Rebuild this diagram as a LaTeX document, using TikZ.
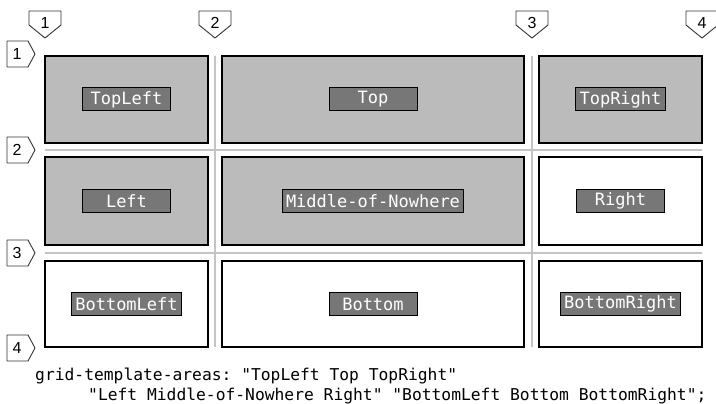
\documentclass[tikz,border=0pt]{standalone}
\usepackage{fontspec}
\setmainfont{Liberation Sans}
\setmonofont{DejaVu Sans Mono}
\usetikzlibrary{positioning}
\definecolor{cellgray}{HTML}{BBBBBB}
\definecolor{lblgray}{HTML}{777777}
\definecolor{linegray}{HTML}{C4C4C4}
\tikzset{
  cell/.style = {rectangle, draw=black, line width=1.2pt, inner sep=0pt},
  lbl/.style = {rectangle, draw=black, line width=1pt, fill=lblgray, text=white, minimum width=88pt, minimum height=23pt, inner xsep=4pt, inner ysep=0pt, font=\ttfamily\fontsize{17}{19}\selectfont},
  gline/.style = {draw=linegray, line width=2pt},
  marker/.style = {draw=black!80, fill=white, line width=0.9pt, line join=round},
  num/.style = {inner sep=0pt, font=\fontsize{16}{18}\selectfont},
  captxt/.style = {anchor=base west, inner sep=0pt, font=\ttfamily\fontsize{16.3}{19}\selectfont}
}
\begin{document}
\begin{tikzpicture}[x=1pt, y=-1pt]
\useasboundingbox (0,0) rectangle (716,404);

% Grid lines
\draw[gline] (45,150) -- (702,150);
\draw[gline] (45,253) -- (702,253);
\draw[gline] (215,56) -- (215,347);
\draw[gline] (532,56) -- (532,347);

% Row 1
\node[cell, fill=cellgray, minimum width=163pt, minimum height=87pt] (TopLeft)  at (126.5,99.5) {};
\node[cell, fill=cellgray, minimum width=302pt, minimum height=87pt] (Top)      at (373,99.5)   {};
\node[cell, fill=cellgray, minimum width=163pt, minimum height=87pt] (TopRight) at (620.5,99.5) {};

% Row 2
\node[cell, fill=cellgray, minimum width=163pt, minimum height=88pt] (Left)   at (126.5,201) {};
\node[cell, fill=cellgray, minimum width=302pt, minimum height=88pt] (Middle) at (373,201)   {};
\node[cell, fill=white,    minimum width=163pt, minimum height=88pt] (Right)  at (620.5,201) {};

% Row 3
\node[cell, fill=white, minimum width=163pt, minimum height=86pt] (BottomLeft)  at (126.5,304) {};
\node[cell, fill=white, minimum width=302pt, minimum height=86pt] (Bottom)      at (373,304)   {};
\node[cell, fill=white, minimum width=163pt, minimum height=86pt] (BottomRight) at (620.5,304) {};

% Area names
\foreach \a in {TopLeft, Top, TopRight, Left, Right, BottomLeft, Bottom, BottomRight}
  \node[lbl] (\a-l) at (\a) {\a};
\node[lbl] (Middle-l) at (Middle) {Middle-of-Nowhere};

% Column line markers
\foreach \n/\x in {1/45, 2/215, 3/532, 4/702} {
  \draw[marker] (\x-16,11) -- (\x+16,11) -- (\x+16,25) -- (\x,38) -- (\x-16,25) -- cycle;
  \node[num] (col\n) at (\x,23) {\n};
}

% Row line markers
\foreach \n/\y in {1/54, 2/150, 3/253, 4/348} {
  \draw[marker] (7,\y-13) -- (28,\y-13) -- (35,\y) -- (28,\y+13) -- (7,\y+13) -- cycle;
  \node[num] (row\n) at (17,\y) {\n};
}

% Caption
\node[captxt] (cap1) at (35,380) {grid-template-areas: "TopLeft Top TopRight"};
\node[captxt] (cap2) at (88,400) {"Left Middle-of-Nowhere Right" "BottomLeft Bottom BottomRight";};

\end{tikzpicture}
\end{document}
